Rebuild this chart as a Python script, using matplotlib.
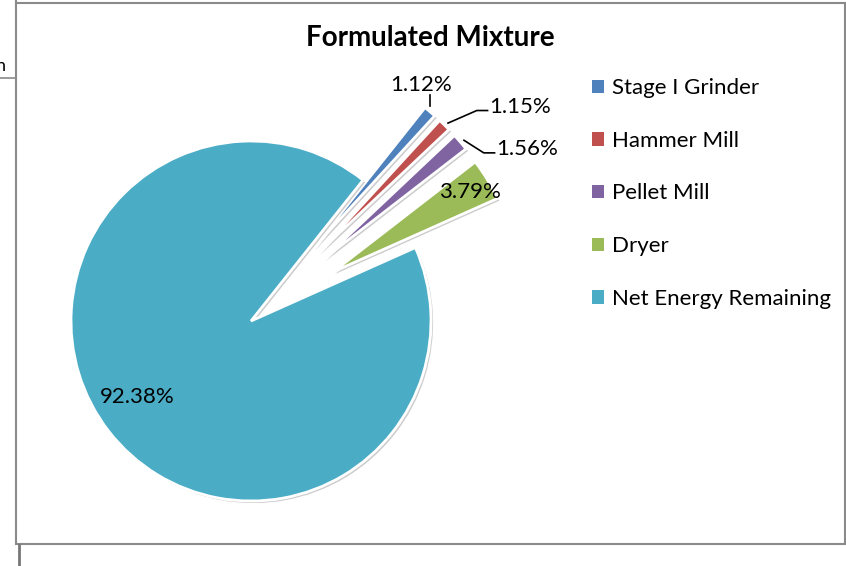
import matplotlib.pyplot as plt
from matplotlib.lines import Line2D
from matplotlib.patches import Rectangle
import matplotlib.patheffects as pe
import numpy as np

plt.rcParams['font.family'] = ['Lato', 'DejaVu Sans']

# Данные
labels = ['Stage I Grinder', 'Hammer Mill', 'Pellet Mill', 'Dryer', 'Net Energy Remaining']
values = [1.12, 1.15, 1.56, 3.79, 92.38]
pct_text = ['1.12%', '1.15%', '1.56%', '3.79%', '92.38%']
colors = ['#4F81BD', '#C0504D', '#8064A2', '#9BBB59', '#4BACC6']
explode = [0.53, 0.53, 0.53, 0.53, 0.0]

W, H = 846, 566
fig = plt.figure(figsize=(W / 100, H / 100), dpi=100)

# центр и радиус пирога в пикселях
cx, cy, R = 251, 321, 180
ax = fig.add_axes([0, 0, 1, 1])
wedges, _ = ax.pie(values, colors=colors, explode=explode, startangle=51.5,
                   counterclock=False,
                   wedgeprops=dict(edgecolor='white', linewidth=2))
for w in wedges:
    w.set_path_effects([pe.SimplePatchShadow(offset=(1.5, -1.5), shadow_rgbFace='#999999', alpha=0.5),
                        pe.Normal()])
ax.set_aspect('auto')
ax.set_xlim(-cx / R, (W - cx) / R)
ax.set_ylim((cy - H) / R, cy / R)
ax.axis('off')

def outer_point(i, r=1.0, dang=0.0):
    w = wedges[i]
    mid = np.deg2rad((w.theta1 + w.theta2) / 2 + dang)
    c = w.center
    return c[0] + r * np.cos(mid), c[1] + r * np.sin(mid)

fs = 16
# выноски для маленьких секторов
offsets = [(0.0, 0.0), (0.24, 0.08), (0.19, -0.06)]
for i in range(3):
    x0, y0 = outer_point(i, 1.0)
    if i == 0:
        ax.plot([x0, x0], [y0 + 0.03, y0 + 0.09], color='black', lw=1.2)
        ax.text(x0 - 0.05, y0 + 0.09, pct_text[i], fontsize=fs, ha='center', va='bottom')
    else:
        x1, y1 = x0 + offsets[i][0], y0 + offsets[i][1]
        ax.plot([x0 + 0.02, x1 - 0.06, x1], [y0 + 0.01, y1, y1], color='black', lw=1.2)
        ax.text(x1 + 0.01, y1 + 0.02, pct_text[i], fontsize=fs, ha='left', va='center')

x3, y3 = outer_point(3, 0.88, -0.5)
ax.text(x3, y3, pct_text[3], fontsize=fs, ha='center', va='center')
x4, y4 = outer_point(4, 0.76, -4)
ax.text(x4, y4, pct_text[4], fontsize=fs, ha='center', va='center')

fig.text(430 / W, 1 - 38 / H, 'Formulated Mixture', fontsize=20, fontweight='bold',
         ha='center', va='center')

leg = fig.legend(wedges, labels, loc='upper left', bbox_to_anchor=(581 / W, 1 - 67 / H),
                 frameon=False, fontsize=fs, handlelength=0.55, handleheight=0.55,
                 handletextpad=0.35, labelspacing=1.47, borderpad=0)
for h in leg.legend_handles:
    h.set_path_effects([])
    h.set_edgecolor('none')

# рамки
g = '#8a8a8a'
fig.add_artist(Rectangle((16 / W, 1 - 544 / H), (845 - 16) / W, (544 - 3) / H,
                         transform=fig.transFigure, fill=False, edgecolor=g, lw=1.5))
fig.add_artist(Line2D([16 / W, 16 / W], [1 - 0 / H, 1 - 3 / H], transform=fig.transFigure, color=g, lw=1.5))
fig.add_artist(Line2D([0, 16 / W], [1 - 78 / H, 1 - 78 / H], transform=fig.transFigure, color=g, lw=1.2))
fig.add_artist(Line2D([19 / W, 19 / W], [1 - 545 / H, 0], transform=fig.transFigure, color='#777777', lw=2))
fig.text(-4 / W, 1 - 66 / H, 'n', fontsize=13, ha='left', va='center')

fig.savefig('out.png', dpi=100)
